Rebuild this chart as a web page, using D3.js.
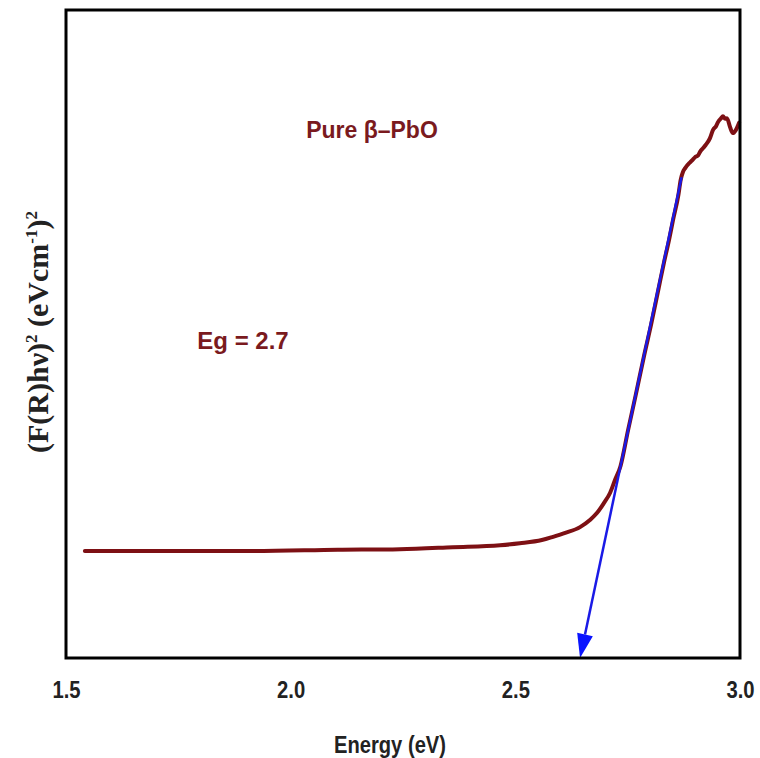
<!DOCTYPE html>
<html>
<head>
<meta charset="utf-8">
<script src="https://cdn.jsdelivr.net/npm/d3@7"></script>
<style>
  body { margin: 0; background: #fff; }
  text { font-family: "Liberation Sans", Arial, sans-serif; }
</style>
</head>
<body>
<div id="chart"></div>
<script>
// energy values (eV) and (F(R)hv)^2 in arbitrary units
const energy = [1.542, 1.687, 1.910, 2.105, 2.243, 2.361, 2.466, 2.510, 2.559, 2.584,
  2.611, 2.644, 2.666, 2.682, 2.697, 2.711, 2.722, 2.734, 2.751, 2.768,
  2.787, 2.802, 2.819, 2.831, 2.842, 2.851, 2.863, 2.868, 2.873, 2.878,
  2.889, 2.895, 2.900, 2.907, 2.911, 2.918, 2.924, 2.933, 2.940, 2.947,
  2.951, 2.958, 2.962, 2.967, 2.971, 2.978, 2.984, 2.991, 2.998];
const absorb = [1.65, 1.65, 1.65, 1.67, 1.68, 1.71, 1.74, 1.77, 1.82, 1.87,
  1.93, 2.02, 2.13, 2.24, 2.39, 2.55, 2.75, 2.96, 3.52, 4.06,
  4.68, 5.14, 5.71, 6.11, 6.45, 6.76, 7.15, 7.38, 7.50, 7.56,
  7.65, 7.69, 7.73, 7.76, 7.81, 7.87, 7.92, 8.02, 8.15, 8.21,
  8.27, 8.33, 8.36, 8.32, 8.33, 8.19, 8.10, 8.15, 8.26];
// tangent line (Tauc extrapolation): start and end point
const fitE = [2.870, 2.644];
const fitV = [7.42, 0];
const xTicks = [1.5, 2.0, 2.5, 3.0];

const width = 760, height = 758;
const margin = { top: 10, right: 20, bottom: 100, left: 66 };

const svg = d3.select("#chart").append("svg")
  .attr("width", width)
  .attr("height", height);

const x = d3.scaleLinear().domain([1.5, 3.0]).range([margin.left, width - margin.right]);
const y = d3.scaleLinear().domain([0, 10]).range([height - margin.bottom, margin.top]);

// data curve
const pts = energy.map((e, i) => [e, absorb[i]]);
svg.append("path")
  .datum(pts)
  .attr("fill", "none")
  .attr("stroke", "#7d1014")
  .attr("stroke-width", 4)
  .attr("stroke-linejoin", "round")
  .attr("stroke-linecap", "round")
  .attr("d", d3.line().x(d => x(d[0])).y(d => y(d[1])).curve(d3.curveMonotoneX));

// blue fit line with filled arrow head
const x1 = x(fitE[0]), y1 = y(fitV[0]), x2 = x(fitE[1]), y2 = y(fitV[1]);
const ang = Math.atan2(y2 - y1, x2 - x1);
const headLen = 24, headW = 8;
const bx = x2 - headLen * Math.cos(ang), by = y2 - headLen * Math.sin(ang);
svg.append("line")
  .attr("x1", x1).attr("y1", y1)
  .attr("x2", bx).attr("y2", by)
  .attr("stroke", "#1a1ae6")
  .attr("stroke-width", 2.5);
svg.append("path")
  .attr("d", `M${x2},${y2} L${bx + headW * Math.sin(ang)},${by - headW * Math.cos(ang)} L${bx - headW * Math.sin(ang)},${by + headW * Math.cos(ang)} Z`)
  .attr("fill", "#0a14ff");

// frame
svg.append("rect")
  .attr("x", margin.left).attr("y", margin.top)
  .attr("width", width - margin.left - margin.right)
  .attr("height", height - margin.top - margin.bottom)
  .attr("fill", "none")
  .attr("stroke", "#000")
  .attr("stroke-width", 3);

// x axis labels (no tick marks)
const xAxis = svg.append("g")
  .attr("transform", `translate(0,${height - margin.bottom})`)
  .call(d3.axisBottom(x).tickValues(xTicks).tickFormat(d3.format(".1f")).tickSize(0).tickPadding(24));
xAxis.select(".domain").remove();
xAxis.selectAll("text")
  .attr("transform", "scale(0.88,1)")
  .style("font-size", "23px")
  .style("font-weight", "bold")
  .attr("fill", "#222");

svg.append("text")
  .attr("transform", "translate(390,753) scale(0.84,1)")
  .attr("text-anchor", "middle")
  .style("font-size", "24px")
  .style("font-weight", "bold")
  .attr("fill", "#222")
  .text("Energy (eV)");

// y axis label
const yl = svg.append("text")
  .attr("transform", "translate(48,332) rotate(-90)")
  .attr("text-anchor", "middle")
  .style("font-family", "'Liberation Serif', 'Times New Roman', serif")
  .style("font-size", "30px")
  .style("font-weight", "bold")
  .attr("fill", "#222");
yl.append("tspan").text("(F(R)h\u03bd)");
yl.append("tspan").attr("dy", -11).style("font-size", "17px").text("2");
yl.append("tspan").attr("dy", 11).text(" (eVcm");
yl.append("tspan").attr("dy", -11).style("font-size", "17px").text("-1");
yl.append("tspan").attr("dy", 11).text(")");
yl.append("tspan").attr("dy", -11).style("font-size", "17px").text("2");

// annotations
svg.append("text")
  .attr("x", 372).attr("y", 138)
  .attr("text-anchor", "middle")
  .style("font-size", "23px")
  .style("font-weight", "bold")
  .attr("fill", "#7a1a1e")
  .text("Pure \u03b2\u2013PbO");

svg.append("text")
  .attr("x", 243).attr("y", 349)
  .attr("text-anchor", "middle")
  .style("font-size", "24px")
  .style("font-weight", "bold")
  .attr("fill", "#7a1a1e")
  .text("Eg = 2.7");
</script>
</body>
</html>
